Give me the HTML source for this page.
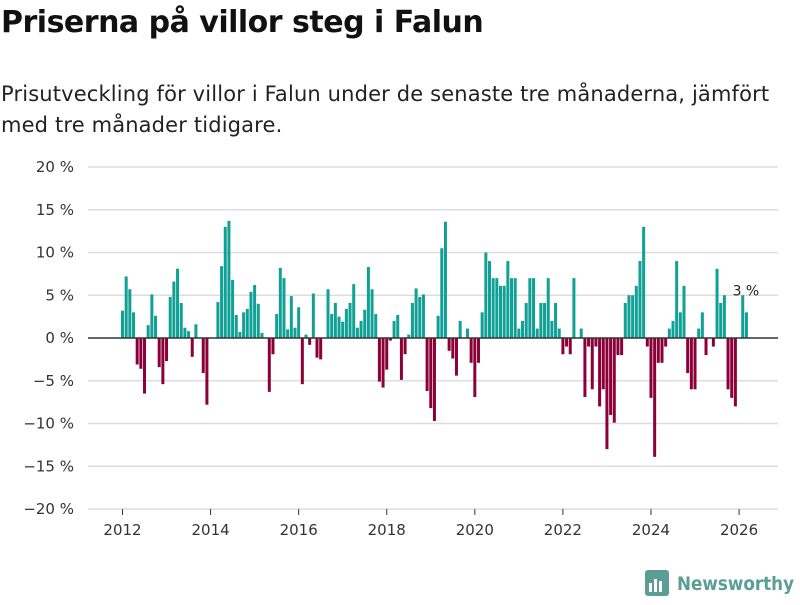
<!DOCTYPE html>
<html><head><meta charset="utf-8">
<style>
body{margin:0;background:#fff;font-family:"Liberation Sans","DejaVu Sans",sans-serif;}
#wrap{position:relative;width:800px;height:600px;overflow:hidden;}
h1{position:absolute;left:1px;top:5px;margin:0;font-size:30px;font-weight:bold;color:#111;font-family:"DejaVu Sans","Liberation Sans",sans-serif;letter-spacing:-0.5px;}
p.sub{position:absolute;left:1px;top:79px;margin:0;font-size:21px;line-height:31px;color:#222;font-family:"DejaVu Sans","Liberation Sans",sans-serif;letter-spacing:0.15px;width:790px;}
svg text{font-family:"DejaVu Sans","Liberation Sans",sans-serif;}
</style></head><body>
<div id="wrap">
<h1>Priserna på villor steg i Falun</h1>
<p class="sub">Prisutveckling för villor i Falun under de senaste tre månaderna, jämfört med tre månader tidigare.</p>
<svg id="chart" width="800" height="600" style="position:absolute;left:0;top:0"></svg>
</div>
<script>
const startYear = 2012;
const values = [3.2,7.2,5.7,3.0,-3.1,-3.6,-6.5,1.5,5.1,2.6,-3.4,-5.4,
-2.7,4.8,6.6,8.1,4.1,1.2,0.8,-2.2,1.6,0,-4.1,-7.8,
0,0,4.2,8.4,13,13.7,6.8,2.7,0.7,3,3.4,5.4,
6.2,4,0.6,0,-6.3,-1.9,2.8,8.2,7.0,1.0,4.9,1.2,
3.6,-5.4,0.4,-0.8,5.2,-2.3,-2.5,0,5.7,2.8,4.1,2.5,
1.9,3.4,4.1,6.3,1.2,2.0,3.3,8.3,5.7,2.8,-5.1,-5.8,
-3.7,-0.3,2.0,2.7,-4.9,-1.9,0.4,4.1,5.8,4.8,5.1,-6.2,
-8.2,-9.7,2.6,10.5,13.6,-1.5,-2.4,-4.4,2.0,0,1.1,-2.9,
-6.9,-2.9,3.0,10.0,9.0,7.0,7.0,6.1,6.1,9.0,7.0,7.0,
1.1,2.0,4.1,7.0,7.0,1.1,4.1,4.1,7.0,2.0,4.1,1.1,
-1.9,-1.0,-1.9,7.0,0,1.1,-6.9,-1.0,-6.0,-1.0,-8.0,-6.0,
-13,-9,-9.9,-2,-2,4.1,5,5,6.1,9,13,-1,
-7,-13.9,-2.9,-2.9,-1,1.1,2,9,3,6.1,-4.1,-6,
-6,1.1,3,-2,0,-1,8.1,4.1,5,-6,-7,-8,
0,5,3];
const yTicks = [20,15,10,5,0,-5,-10,-15,-20];
const xTickYears = [2012,2014,2016,2018,2020,2022,2024,2026];
const lastLabel = "3 %";

const NS="http://www.w3.org/2000/svg";
const svg=document.getElementById('chart');
const y0=338, pxPerPct=8.55;
function yScale(v){return y0 - v*pxPerPct;}
function xScale(i){return 121 + 3.67*i;}
function mk(tag,attrs){const e=document.createElementNS(NS,tag);for(const k in attrs)e.setAttribute(k,attrs[k]);svg.appendChild(e);return e;}

yTicks.forEach(t=>{
  const y=yScale(t);
  if(t!==0){const g=mk('line',{x1:88,x2:778,y1:y,y2:y,stroke:'#dddddd','stroke-width':1.5});
  
  }
  const tx=mk('text',{x:74,y:y+5,'text-anchor':'end','font-size':15,fill:'#333'});
  tx.textContent=(t<0?'−'+Math.abs(t):t)+' %';
  
  
});
xTickYears.forEach(yr=>{
  const x=xScale((yr-startYear)*12)+1.5;
  const l=mk('line',{x1:x,x2:x,y1:509,y2:515,stroke:'#333','stroke-width':1});
  
  
  const tx=mk('text',{x:x,y:535,'text-anchor':'middle','font-size':15,fill:'#333'});
  tx.textContent=yr;
  
  
});
values.forEach((v,i)=>{
  if(v===0)return;
  const y=yScale(Math.max(v,0)), h=Math.abs(v)*pxPerPct;
  const r=mk('rect',{x:xScale(i),y:y,width:3,height:h,fill:v>0?'#10a096':'#8c0039'});
  
  
});
const zl=mk('line',{x1:88,x2:778,y1:y0,y2:y0,stroke:'#333','stroke-width':1.5});


const li=values.length-1;
const lb=mk('text',{x:xScale(li)+1,y:yScale(values[li])-17,'text-anchor':'middle','font-size':14,fill:'#222'});
lb.textContent=lastLabel;


</script>
<svg width="160" height="40" style="position:absolute;left:640px;top:565px">
<rect x="5" y="5" width="24" height="26" rx="3" fill="#5a9e96"/>
<rect x="9" y="18" width="3" height="9" fill="#fff"/><rect x="14" y="14" width="3" height="13" fill="#fff"/><rect x="19" y="16" width="3" height="11" fill="#fff"/>
<text x="37" y="25" font-size="19" font-weight="bold" fill="#5a9e96" textLength="117" lengthAdjust="spacingAndGlyphs" font-family="DejaVu Sans, Liberation Sans, sans-serif">Newsworthy</text>
</svg>
</body></html>
